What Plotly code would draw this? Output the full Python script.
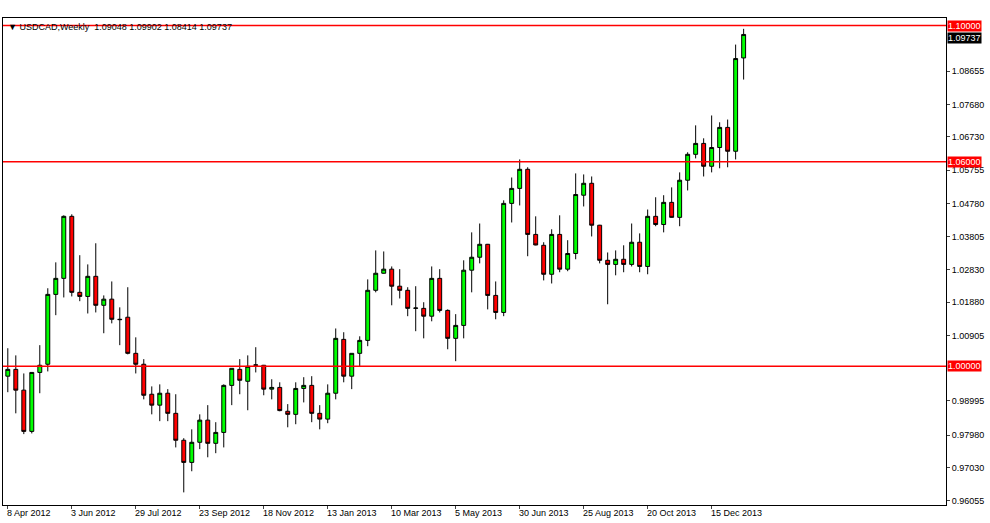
import plotly.graph_objects as go

# weekly USDCAD candles, 8 Apr 2012 onwards
opens = [0.9971, 0.9991, 0.9930, 0.9809, 0.9982, 1.0006, 1.0211, 1.0258, 1.0440, 1.0217,
         1.0205, 1.0264, 1.0179, 1.0197, 1.0138, 1.0144, 1.0038, 1.0006, 0.9918, 0.9886,
         0.9921, 0.9862, 0.9783, 0.9718, 0.9777, 0.9842, 0.9774, 0.9806, 0.9944, 0.9991,
         0.9956, 1.0003, 1.0003, 0.9933, 0.9938, 0.9868, 0.9859, 0.9935, 0.9944, 0.9862,
         0.9845, 0.9921, 1.0079, 0.9971, 1.0038, 1.0076, 1.0223, 1.0273, 1.0285, 1.0235,
         1.0223, 1.0170, 1.0170, 1.0147, 1.0258, 1.0164, 1.0082, 1.0120, 1.0282, 1.0320,
         1.0358, 1.0208, 1.0158, 1.0478, 1.0522, 1.0578, 1.0387, 1.0355, 1.0270, 1.0387,
         1.0285, 1.0331, 1.0502, 1.0537, 1.0414, 1.0311, 1.0299, 1.0314, 1.0299, 1.0364,
         1.0293, 1.0440, 1.0416, 1.0481, 1.0437, 1.0546, 1.0622, 1.0654, 1.0587, 1.0642,
         1.0701, 1.0631, 1.09048]
highs = [1.0053, 1.0032, 0.9979, 0.9982, 1.0062, 1.0229, 1.0305, 1.0443, 1.0446, 1.0326,
         1.0299, 1.0361, 1.0208, 1.0249, 1.0173, 1.0232, 1.0085, 1.0021, 0.9941, 0.9947,
         0.9933, 0.9918, 0.9789, 0.9815, 0.9859, 0.9886, 0.9836, 0.9947, 0.9994, 1.0021,
         1.0032, 1.0056, 1.0004, 0.9962, 0.9953, 0.9889, 0.9953, 0.9968, 0.9971, 0.9886,
         0.9947, 1.0111, 1.0100, 1.0038, 1.0088, 1.0255, 1.0340, 1.0337, 1.0293, 1.0285,
         1.0232, 1.0235, 1.0188, 1.0293, 1.0285, 1.0167, 1.0153, 1.0311, 1.0393, 1.0419,
         1.0359, 1.0249, 1.0487, 1.0554, 1.0607, 1.0584, 1.0440, 1.0364, 1.0402, 1.0443,
         1.0370, 1.0566, 1.0563, 1.0557, 1.0415, 1.0334, 1.0340, 1.0355, 1.0419, 1.0390,
         1.0460, 1.0496, 1.0502, 1.0525, 1.0569, 1.0628, 1.0707, 1.0669, 1.0736, 1.0716,
         1.0724, 1.0944, 1.09902]
lows = [0.9924, 0.9862, 0.9801, 0.9803, 0.9921, 0.9985, 1.0150, 1.0202, 1.0205, 1.0191,
        1.0155, 1.0158, 1.0097, 1.0126, 1.0062, 1.0035, 0.9979, 0.9903, 0.9859, 0.9839,
        0.9839, 0.9762, 0.9630, 0.9692, 0.9757, 0.9733, 0.9745, 0.9762, 0.9886, 0.9918,
        0.9871, 0.9982, 0.9915, 0.9903, 0.9868, 0.9821, 0.9830, 0.9894, 0.9836, 0.9815,
        0.9833, 0.9903, 0.9953, 0.9933, 1.0000, 1.0059, 1.0217, 1.0272, 1.0179, 1.0199,
        1.0147, 1.0103, 1.0082, 1.0132, 1.0158, 1.0050, 1.0015, 1.0082, 1.0217, 1.0302,
        1.0167, 1.0138, 1.0147, 1.0422, 1.0472, 1.0323, 1.0355, 1.0252, 1.0243, 1.0276,
        1.0279, 1.0314, 1.0469, 1.0381, 1.0302, 1.0182, 1.0267, 1.0276, 1.0293, 1.0276,
        1.0270, 1.0411, 1.0393, 1.0436, 1.0411, 1.0516, 1.0610, 1.0557, 1.0569, 1.0581,
        1.0584, 1.0607, 1.08414]
closes = [0.9991, 0.9930, 0.9809, 0.9982, 1.0003, 1.0211, 1.0258, 1.0440, 1.0217, 1.0205,
          1.0264, 1.0179, 1.0197, 1.0138, 1.0137, 1.0038, 1.0006, 0.9915, 0.9886, 0.9921,
          0.9862, 0.9783, 0.9718, 0.9777, 0.9842, 0.9774, 0.9806, 0.9944, 0.9994, 0.9959,
          1.0000, 1.0004, 0.9933, 0.9938, 0.9870, 0.9859, 0.9935, 0.9944, 0.9862, 0.9845,
          0.9921, 1.0082, 0.9971, 1.0038, 1.0076, 1.0223, 1.0273, 1.0285, 1.0235, 1.0223,
          1.0170, 1.0171, 1.0147, 1.0258, 1.0164, 1.0082, 1.0120, 1.0282, 1.0320, 1.0358,
          1.0208, 1.0158, 1.0478, 1.0522, 1.0578, 1.0387, 1.0356, 1.0270, 1.0387, 1.0285,
          1.0331, 1.0504, 1.0537, 1.0414, 1.0311, 1.0299, 1.0314, 1.0299, 1.0364, 1.0293,
          1.0440, 1.0416, 1.0481, 1.0437, 1.0546, 1.0622, 1.0654, 1.0587, 1.0642, 1.0701,
          1.0631, 1.0903, 1.09737]

date_labels = ["8 Apr 2012", "3 Jun 2012", "29 Jul 2012", "23 Sep 2012", "18 Nov 2012",
               "13 Jan 2013", "10 Mar 2013", "5 May 2013", "30 Jun 2013", "25 Aug 2013",
               "20 Oct 2013", "15 Dec 2013"]
price_ticks = [0.96055, 0.97030, 0.97980, 0.98995, 1.00905, 1.01880, 1.02830,
               1.03805, 1.04780, 1.05755, 1.06730, 1.07680, 1.08655]
levels = [1.10000, 1.06000, 1.00000]

x = list(range(len(opens)))
x_range = [-0.6, 117.3]
label_pos = x[::8][:len(date_labels)]
small = dict(size=9, family="Arial", color="black")

fig = go.Figure()

# support / resistance levels
for lv in levels:
    fig.add_shape(type="line", xref="paper", x0=0, x1=1, yref="y", y0=lv, y1=lv,
                  line=dict(color="#ff0000", width=1.5), layer="above")

fig.add_trace(go.Candlestick(
    x=x, open=opens, high=highs, low=lows, close=closes,
    increasing=dict(fillcolor="#00ff00", line=dict(color="black", width=1)),
    decreasing=dict(fillcolor="#ff0000", line=dict(color="black", width=1)),
    whiskerwidth=0, showlegend=False, hoverinfo="skip",
))

for lv in levels:
    fig.add_annotation(x=1, xref="paper", y=lv, yref="y", xanchor="left", yanchor="middle",
                       text=f"{lv:.5f}", showarrow=False, bgcolor="#ff0000",
                       font=dict(color="white", size=9, family="Arial"), xshift=1,
                       borderpad=0)

fig.add_annotation(x=1, xref="paper", y=closes[-1], yref="y", xanchor="left", yanchor="top",
                   text=f"{closes[-1]:.5f}", showarrow=False, bgcolor="black",
                   font=dict(color="white", size=9, family="Arial"), xshift=1, yshift=2,
                   borderpad=0)

fig.add_annotation(x=0, xref="paper", y=1, yref="paper", xanchor="left", yanchor="top",
                   text=f"▼ USDCAD,Weekly  {opens[-1]:.5f} {highs[-1]:.5f} {lows[-1]:.5f} {closes[-1]:.5f}",
                   showarrow=False, font=small, xshift=3, yshift=-2)

for pos, lab in zip(label_pos, date_labels):
    fig.add_annotation(x=pos, xref="x", y=0, yref="paper", xanchor="left", yanchor="top",
                       text=lab, showarrow=False, font=small, xshift=-3, yshift=-1)

fig.update_xaxes(
    range=x_range, tickvals=label_pos, showticklabels=False,
    showgrid=False, rangeslider_visible=False, ticks="outside", ticklen=3,
    showline=True, linecolor="black", mirror=True, zeroline=False, showspikes=False,
)
fig.update_yaxes(
    range=[0.9593, 1.1022], side="right", tickvals=price_ticks,
    ticktext=[f"{v:.5f}" for v in price_ticks], showgrid=False, ticks="outside", ticklen=3,
    tickfont=small,
    showline=True, linecolor="black", mirror=True, zeroline=False, showspikes=False,
)
fig.update_layout(
    width=990, height=523, paper_bgcolor="white", plot_bgcolor="white",
    margin=dict(l=3, r=44, t=18, b=18), hovermode=False, dragmode=False,
)

fig.write_html("out.html", config={"displayModeBar": False, "staticPlot": True},
               post_script="document.body.style.margin='0';")
